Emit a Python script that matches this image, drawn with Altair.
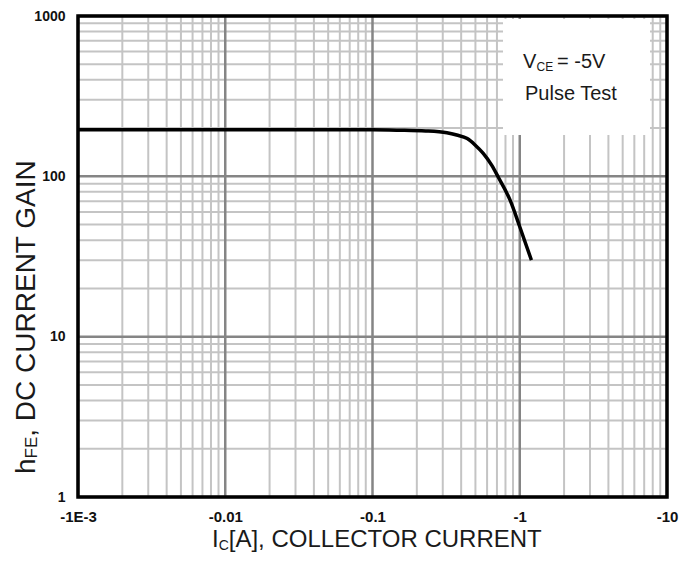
import altair as alt
import pandas as pd

# ---- data ----
ic = [0.001, 0.01, 0.1, 0.15, 0.23, 0.32, 0.373, 0.44, 0.497, 0.565, 0.646, 0.714, 0.86, 1.0, 1.2]
hfe = [195, 195, 195, 194, 192, 187, 181, 172, 157, 139, 117, 99, 71, 48.5, 30]

x_major = [0.001, 0.01, 0.1, 1, 10]
x_labels = ["-1E-3", "-0.01", "-0.1", "-1", "-10"]
y_major = [1, 10, 100, 1000]
y_labels = ["1", "10", "100", "1000"]
minor_mult = [2, 3, 4, 5, 6, 7, 8, 9]
x_decades = [0.001, 0.01, 0.1, 1]
y_decades = [1, 10, 100]

x_minor = [m * d for d in x_decades for m in minor_mult]
y_minor = [m * d for d in y_decades for m in minor_mult]

W, H = 589, 481
FONT = "Liberation Sans"


def label_expr(vals, labs):
    return " ".join(f"datum.value == {v} ? '{l}' :" for v, l in zip(vals, labs)) + " ''"


xscale = alt.Scale(type="log", domain=[0.001, 10], nice=False)
yscale = alt.Scale(type="log", domain=[1, 1000], nice=False)

xaxis = alt.Axis(values=x_major, labelExpr=label_expr(x_major, x_labels), title=None,
                 grid=False, ticks=False, tickSize=0, domain=False, labelPadding=12,
                 labelFont=FONT, labelFontSize=15, labelFontWeight="bold", labelColor="#111",
                 labelFlush=False)
yaxis = alt.Axis(values=y_major, labelExpr=label_expr(y_major, y_labels), title=None,
                 grid=False, ticks=False, tickSize=0, domain=False, labelPadding=13,
                 labelFont=FONT, labelFontSize=14, labelFontWeight="bold", labelColor="#111",
                 labelFlush=False)

xminor_layer = alt.Chart(pd.DataFrame({"v": x_minor})).mark_rule(
    color="#c4c4c4", strokeWidth=2).encode(x=alt.X("v:Q", scale=xscale, axis=xaxis))
yminor_layer = alt.Chart(pd.DataFrame({"v": y_minor})).mark_rule(
    color="#c4c4c4", strokeWidth=2).encode(y=alt.Y("v:Q", scale=yscale, axis=yaxis))
xmajor_layer = alt.Chart(pd.DataFrame({"v": x_major})).mark_rule(
    color="#858585", strokeWidth=2.5).encode(x=alt.X("v:Q", scale=xscale, axis=xaxis))
ymajor_layer = alt.Chart(pd.DataFrame({"v": y_major})).mark_rule(
    color="#858585", strokeWidth=2.5).encode(y=alt.Y("v:Q", scale=yscale, axis=yaxis))

curve = alt.Chart(pd.DataFrame({"ic": ic, "hfe": hfe})).mark_line(
    color="black", strokeWidth=3.5, interpolate="monotone").encode(
    x=alt.X("ic:Q", scale=xscale, axis=xaxis),
    y=alt.Y("hfe:Q", scale=yscale, axis=yaxis),
)

one = alt.Data(values=[{}])

box = alt.Chart(one).mark_rect(fill="white").encode(
    x=alt.value(425), x2=alt.value(572), y=alt.value(3), y2=alt.value(119))


def txt(s, x, y, size, angle=0, weight="normal"):
    return alt.Chart(one).mark_text(
        text=s, align="left", baseline="alphabetic", font=FONT, fontSize=size,
        angle=angle, color="#1a1a1a", fontWeight=weight,
    ).encode(x=alt.value(x), y=alt.value(y))


# annotation
ann = [
    txt("V", 445, 52, 20),
    txt("CE", 458.5, 55, 12),
    txt("= -5V", 479, 52, 20),
    txt("Pulse Test", 447, 84, 20),
]

# x title: I_C[A], COLLECTOR CURRENT
XF, XS = 24, 14
xt = [
    txt("I", 134, 531, XF),
    txt("C", 134 + 0.278 * XF, 534, XS),
    txt("[A], COLLECTOR CURRENT", 134 + 0.278 * XF + 0.722 * XS, 531, XF),
]

# y title: h_FE, DC CURRENT GAIN (rotated)
F, FS = 28, 17
Y0, BX = 458, -43
yt = [
    txt("h", BX, Y0, F, angle=270),
    txt("FE", BX + 2, Y0 - 0.556 * F, FS, angle=270),
    txt(", DC CURRENT GAIN", BX, Y0 - 0.556 * F - 1.278 * FS, F, angle=270),
]

border = alt.Chart(one).mark_rect(fill=None, stroke="black", strokeWidth=3.5).encode(
    x=alt.value(0), x2=alt.value(W), y=alt.value(0), y2=alt.value(H))

chart = alt.layer(
    xminor_layer, yminor_layer, xmajor_layer, ymajor_layer, curve, box,
    *ann, *xt, *yt, border
).properties(
    width=W, height=H,
    padding={"left": 70, "top": 8, "right": 18, "bottom": 56},
    autosize=alt.AutoSizeParams(type="none"),
    background="white",
).configure_view(stroke=None)

chart.save("out.html", embed_options={"renderer": "svg", "actions": False})
